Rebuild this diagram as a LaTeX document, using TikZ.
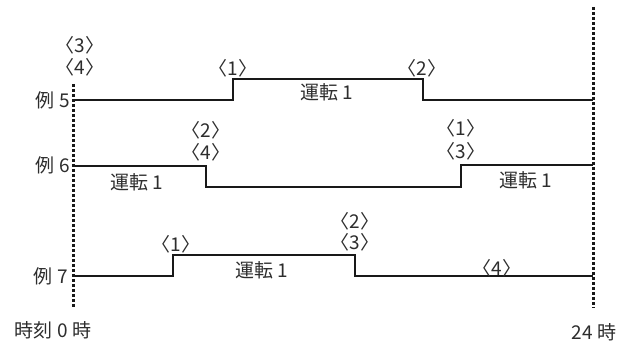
\documentclass[tikz,border=0pt]{standalone}
\usepackage{fontspec}
\setmainfont{Noto Sans CJK JP}
\usepackage{tikz}
\usetikzlibrary{positioning}
\definecolor{sigGray}{RGB}{25,25,25}
\definecolor{txtGray}{RGB}{45,45,45}
\tikzset{
  sig/.style={draw=sigGray,line width=2.8pt,line join=miter},
  edge/.style={draw=sigGray,line width=3pt,dash pattern=on 2.8pt off 2.2pt},
  lbl/.style={font=\fontsize{19}{22}\selectfont,text=txtGray,inner sep=0pt},
  rowlbl/.style={lbl,anchor=east},
}

\begin{document}
\begin{tikzpicture}[x=1pt,y=-1pt]
  \useasboundingbox (0,0) rectangle (635,344);

  % day boundaries
  \coordinate (t0top) at (73,84);
  \coordinate (t0bot) at (73,308);
  \coordinate (t24top) at (593,7);
  \coordinate (t24bot) at (593,308);
  \draw[edge] (t0top) -- (t0bot);
  \draw[edge] (t24top) -- (t24bot);

  % example 5
  \coordinate (a5) at (73,100);
  \coordinate (b5) at (233,100);
  \coordinate (c5) at (233,79);
  \coordinate (d5) at (423,79);
  \coordinate (e5) at (423,100);
  \coordinate (f5) at (593,100);
  \draw[sig] (a5) -- (b5) -- (c5) -- (d5) -- (e5) -- (f5);

  % example 6
  \coordinate (a6) at (73,166);
  \coordinate (b6) at (206,166);
  \coordinate (c6) at (206,187);
  \coordinate (d6) at (461,187);
  \coordinate (e6) at (461,165);
  \coordinate (f6) at (593,165);
  \draw[sig] (a6) -- (b6) -- (c6) -- (d6) -- (e6) -- (f6);

  % example 7
  \coordinate (a7) at (73,276);
  \coordinate (b7) at (173,276);
  \coordinate (c7) at (173,255);
  \coordinate (d7) at (355,255);
  \coordinate (e7) at (355,276);
  \coordinate (f7) at (593,276);
  \draw[sig] (a7) -- (b7) -- (c7) -- (d7) -- (e7) -- (f7);

  \node[rowlbl] (ex5) at (70,100) {例 5};
  \node[rowlbl] (ex6) at (70,165) {例 6};
  \node[rowlbl] (ex7) at (68,276) {例 7};

  \node[lbl] (p5s) at (80,45) {〈3〉};
  \node[lbl] (p5t) at (80,67) {〈4〉};
  \node[lbl] (p5on) at (233,68) {〈1〉};
  \node[lbl] (p5off) at (422,68) {〈2〉};
  \node[lbl] (run5) at (327,92) {運転 1};

  \node[lbl] (p6a) at (206,130) {〈2〉};
  \node[lbl] (p6b) at (206,152) {〈4〉};
  \node[lbl] (p6c) at (461,128) {〈1〉};
  \node[lbl] (p6d) at (461,151) {〈3〉};
  \node[lbl] (run6a) at (137,182) {運転 1};
  \node[lbl] (run6b) at (526,180) {運転 1};

  \node[lbl] (p7on) at (176,244) {〈1〉};
  \node[lbl] (p7a) at (355,221) {〈2〉};
  \node[lbl] (p7b) at (355,242) {〈3〉};
  \node[lbl] (run7) at (262,270) {運転 1};
  \node[lbl] (p7c) at (497,268) {〈4〉};

  \node[lbl] (h0) at (53,330) {時刻 0 時};
  \node[lbl] (h24) at (594,332) {24 時};
\end{tikzpicture}
\end{document}
